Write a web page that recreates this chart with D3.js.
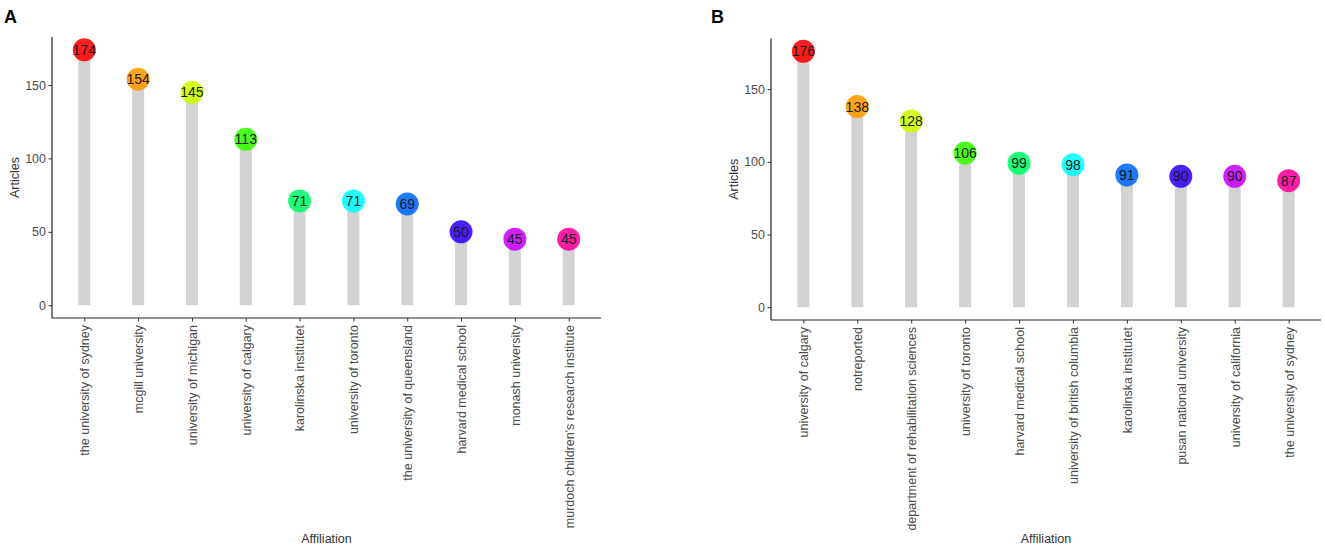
<!DOCTYPE html>
<html>
<head>
<meta charset="utf-8">
<script src="https://cdn.jsdelivr.net/npm/d3@7"></script>
<style>
  html, body { margin: 0; padding: 0; background: #fff; }
  svg { display: block; font-family: "Liberation Sans", Arial, sans-serif; }
</style>
</head>
<body>
<svg id="chart" width="1325" height="551"></svg>
<script>
// ---- data ----
const categoriesA = ["the university of sydney", "mcgill university", "university of michigan",
  "university of calgary", "karolinska institutet", "university of toronto",
  "the university of queensland", "harvard medical school", "monash university",
  "murdoch children's research institute"];
const valuesA = [174, 154, 145, 113, 71, 71, 69, 50, 45, 45];

const categoriesB = ["university of calgary", "notreported", "department of rehabilitation sciences",
  "university of toronto", "harvard medical school", "university of british columbia",
  "karolinska institutet", "pusan national university", "university of california",
  "the university of sydney"];
const valuesB = [176, 138, 128, 106, 99, 98, 91, 90, 90, 87];

const yTicks = [0, 50, 100, 150];
const palette = ["#FF0000", "#FF9900", "#CCFF00", "#33FF00", "#00FF66",
  "#00FFFF", "#0066FF", "#3300FF", "#CC00FF", "#FF0099"];

const svg = d3.select("#chart");

function drawPanel(cfg) {
  const { cats, vals, left, right, top, bottom, letter, letterX } = cfg;
  const g = svg.append("g");
  const maxV = d3.max(vals);
  const pad = maxV * 0.05;
  const y = d3.scaleLinear().domain([-pad, maxV + pad]).range([bottom, top]);
  const x = d3.scalePoint().domain(cats).range([left, right]).padding(0.6);

  // stems
  g.selectAll("rect.stem").data(vals).enter().append("rect")
    .attr("class", "stem")
    .attr("x", (d, i) => x(cats[i]) - 6)
    .attr("width", 12)
    .attr("y", d => y(d))
    .attr("height", d => y(0) - y(d))
    .attr("fill", "#d3d3d3");

  // circles
  g.selectAll("circle.pt").data(vals).enter().append("circle")
    .attr("class", "pt")
    .attr("cx", (d, i) => x(cats[i]))
    .attr("cy", d => y(d))
    .attr("r", 11.5)
    .attr("fill", (d, i) => palette[i])
    .attr("fill-opacity", 0.88);

  // value labels
  g.selectAll("text.val").data(vals).enter().append("text")
    .attr("class", "val")
    .attr("x", (d, i) => x(cats[i]))
    .attr("y", d => y(d))
    .attr("dy", "0.36em")
    .attr("text-anchor", "middle")
    .attr("font-size", 14)
    .attr("fill", "#1a1a1a")
    .text(d => d);

  // y axis
  const yAxis = g.append("g").attr("transform", `translate(${left},0)`)
    .call(d3.axisLeft(y).tickValues(yTicks).tickSize(3.5).tickPadding(2.5));
  yAxis.select(".domain").attr("stroke", "#222").attr("stroke-width", 1.2)
    .attr("d", `M0,${bottom}V${top}`);
  yAxis.selectAll(".tick line").attr("stroke", "#333");
  yAxis.selectAll(".tick text").attr("fill", "#4d4d4d").attr("font-size", 12.5)
    .attr("font-family", "Liberation Sans, Arial, sans-serif");

  // x axis
  const xAxis = g.append("g").attr("transform", `translate(0,${bottom})`)
    .call(d3.axisBottom(x).tickSize(3.5).tickPadding(2));
  xAxis.select(".domain").attr("stroke", "#222").attr("stroke-width", 1.2)
    .attr("d", `M${left},0H${right}`);
  xAxis.selectAll(".tick line").attr("stroke", "#333");
  xAxis.selectAll(".tick text")
    .attr("fill", "#4d4d4d").attr("font-size", 12.5)
    .attr("font-family", "Liberation Sans, Arial, sans-serif")
    .attr("transform", "rotate(-90)")
    .attr("text-anchor", "end")
    .attr("x", -7).attr("y", 0).attr("dy", "0.35em");

  // axis titles
  g.append("text")
    .attr("x", (left + right) / 2).attr("y", 543)
    .attr("text-anchor", "middle").attr("font-size", 12.5).attr("fill", "#333")
    .text("Affiliation");
  g.append("text")
    .attr("transform", `translate(${left - 33},${(top + bottom) / 2}) rotate(-90)`)
    .attr("text-anchor", "middle").attr("font-size", 12.5).attr("fill", "#333")
    .text("Articles");

  // panel letter
  g.append("text")
    .attr("x", letterX).attr("y", 23)
    .attr("font-size", 18).attr("font-weight", "bold").attr("fill", "#000")
    .text(letter);
}

drawPanel({ cats: categoriesA, vals: valuesA, left: 52, right: 601, top: 37, bottom: 318, letter: "A", letterX: 4 });
drawPanel({ cats: categoriesB, vals: valuesB, left: 771, right: 1321, top: 38.5, bottom: 320, letter: "B", letterX: 711 });
</script>
</body>
</html>
